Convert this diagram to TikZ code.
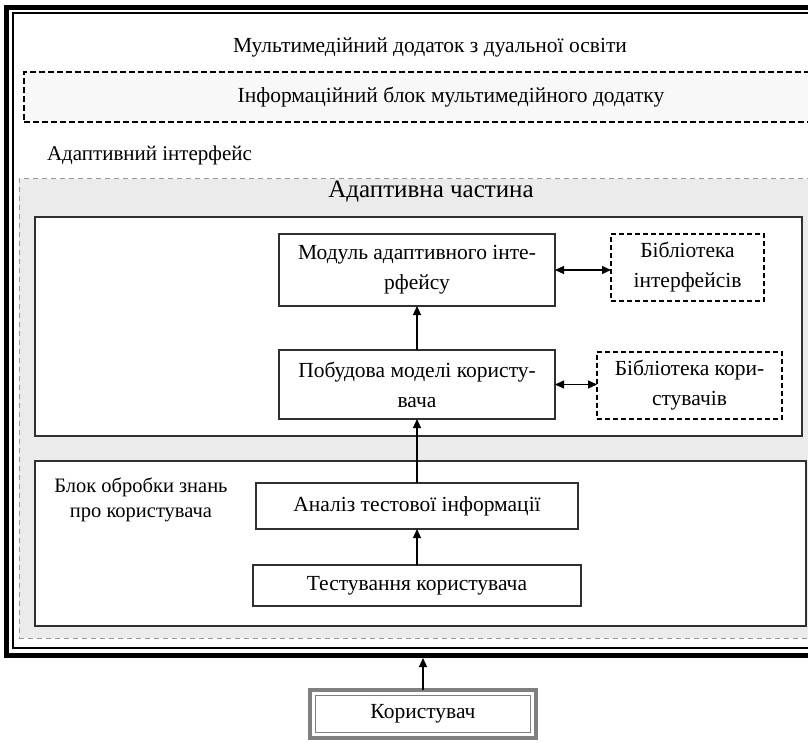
\documentclass[tikz,border=0pt]{standalone}
\usepackage{fontspec}
\setmainfont{Liberation Serif}
\usetikzlibrary{arrows.meta}
\definecolor{regionfill}{HTML}{EBEBEB}
\definecolor{infofill}{HTML}{F8F8F8}
\definecolor{boxline}{HTML}{303030}
\begin{document}
\begin{tikzpicture}[x=1pt,y=-1pt,
  every node/.style={outer sep=0pt, inner sep=2pt},
  txt/.style={font=\fontsize{21.5}{30}\selectfont, align=center},
  plainbox/.style={txt, draw=boxline, line width=1.3pt, fill=white},
  libbox/.style={txt, draw=black, line width=1.1pt, fill=white, dash pattern=on 5pt off 3pt},
  panel/.style={draw=boxline, line width=1.6pt, fill=white},
  arr/.style={line width=1.2pt, -{Triangle[length=9pt,width=8pt]}},
  darr/.style={line width=1.2pt, {Triangle[length=9pt,width=8pt]}-{Triangle[length=9pt,width=8pt]}}
]
\useasboundingbox (0,0) rectangle (808,743);
\fill[white] (0,0) rectangle (808,743);
\clip (0,0) rectangle (808,743);

% outer frame
\draw[line width=5pt] (6.5,7.5) rectangle (850,655.5);
\draw[line width=1.2pt] (13,13) rectangle (845,648);

% title
\node[txt] (title) at (430,47) {Мультимедійний додаток з дуальної освіти};

% info block
\node[txt, draw=black, line width=1.1pt, fill=infofill, dash pattern=on 6pt off 3pt,
      minimum width=854pt, minimum height=50pt] (info) at (451,97)
      {Інформаційний блок мультимедійного додатку};

\node[txt, font=\fontsize{21}{30}\selectfont, anchor=west] (adint) at (45,155) {Адаптивний інтерфейс};

% grey adaptive region
\node[draw=black!40, line width=1pt, fill=regionfill, dash pattern=on 5pt off 4pt,
      minimum width=824pt, minimum height=459pt] (region) at (431,408.5) {};
\node[font=\fontsize{25}{30}\selectfont] (adpart) at (431,192) {Адаптивна частина};

% panels
\node[panel, minimum width=767pt, minimum height=219pt] (partbox) at (418.5,326.5) {};
\node[panel, minimum width=771pt, minimum height=165pt] (knowbox) at (420.5,543.5) {};

% boxes
\node[plainbox, minimum width=276pt, minimum height=72pt] (modul) at (417,270)
  {Модуль адаптивного інте-\\рфейсу};
\node[libbox, minimum width=153pt, minimum height=67pt] (libint) at (687.5,267.5)
  {Бібліотека\\інтерфейсів};
\node[plainbox, minimum width=276pt, minimum height=69pt] (model) at (417,384.5)
  {Побудова моделі користу-\\вача};
\node[libbox, minimum width=185pt, minimum height=67pt] (libusr) at (689.5,385.5)
  {Бібліотека кори-\\стувачів};
\node[plainbox, minimum width=322pt, minimum height=46pt] (analiz) at (417,506)
  {Аналіз тестової інформації};
\node[plainbox, minimum width=328pt, minimum height=41pt] (test) at (417,585.5)
  {Тестування користувача};
\node[txt, font=\fontsize{20.5}{25}\selectfont] (knowlbl) at (141,500)
  {Блок обробки знань\\про користувача};

% user
\node[txt, draw=black!50, line width=4pt, fill=white, minimum width=226pt,
      minimum height=48pt] (user) at (423,714) {Користувач};
\draw[black!50, line width=1.2pt] ([shift={(5.5,5.5)}]user.north west)
  rectangle ([shift={(-5.5,-5.5)}]user.south east);
\coordinate (framebottom) at (423,658);

% connectors
\draw[arr] (user.north) -- (framebottom);
\draw[arr] (test.north) -- (test.north |- analiz.south);
\draw[arr] (analiz.north) -- (analiz.north |- model.south);
\draw[arr] (model.north) -- (model.north |- modul.south);
\draw[darr] (modul.east) -- (modul.east -| libint.west);
\draw[darr] (model.east) -- (model.east -| libusr.west);
\end{tikzpicture}
\end{document}
